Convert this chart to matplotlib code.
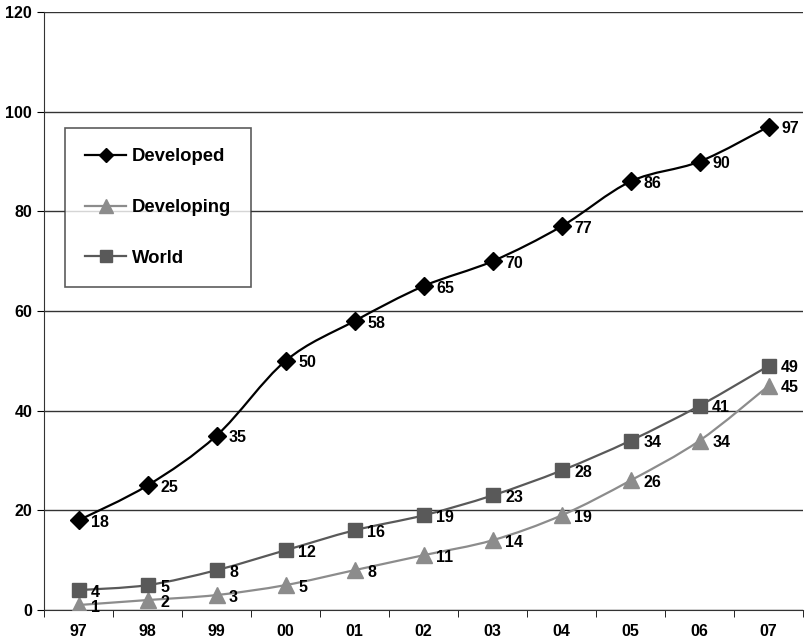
import numpy as np
import matplotlib
matplotlib.use('Agg')
import matplotlib.pyplot as plt
from matplotlib.path import Path
from matplotlib.patches import PathPatch
from matplotlib.lines import Line2D

plt.rcParams['font.family'] = ['Liberation Sans', 'DejaVu Sans']
plt.rcParams['font.weight'] = 'bold'

years = ['97', '98', '99', '00', '01', '02', '03', '04', '05', '06', '07']
developed = [18, 25, 35, 50, 58, 65, 70, 77, 86, 90, 97]
developing = [1, 2, 3, 5, 8, 11, 14, 19, 26, 34, 45]
world = [4, 5, 8, 12, 16, 19, 23, 28, 34, 41, 49]


def smooth_path(x, y):
    # Excel-style smoothed line: cubic bezier segments (Catmull-Rom tangents)
    pts = np.column_stack([x, y]).astype(float)
    verts = [pts[0]]
    codes = [Path.MOVETO]
    n = len(pts)
    for i in range(n - 1):
        p0 = pts[i - 1] if i > 0 else pts[i]
        p1, p2 = pts[i], pts[i + 1]
        p3 = pts[i + 2] if i + 2 < n else pts[i + 1]
        c1 = p1 + (p2 - p0) / 6.0
        c2 = p2 - (p3 - p1) / 6.0
        verts += [c1, c2, p2]
        codes += [Path.CURVE4] * 3
    return Path(verts, codes)


fig = plt.figure(figsize=(8.05, 6.43), dpi=100)
ax = fig.add_axes([0.0547, 0.0513, 0.943, 0.930])

x = np.arange(len(years))
# values, name, colour, marker, plot marker size, legend marker size
series = [
    (developed, 'Developed', 'black', 'D', 9.5, 7),
    (developing, 'Developing', '#8c8c8c', '^', 12, 10),
    (world, 'World', '#595959', 's', 10.5, 8.5),
]

for vals, name, col, mk, ms, lms in series:
    ax.add_patch(PathPatch(smooth_path(x, vals), fill=False, edgecolor=col,
                           lw=1.6, zorder=3))
    ax.plot(x, vals, linestyle='none', marker=mk, color=col, markersize=ms,
            zorder=4)
    for xi, v in zip(x, vals):
        ax.annotate(str(v), (xi, v), xytext=(9, -1.5), textcoords='offset points',
                    fontsize=11.5, fontweight='bold', ha='left', va='center',
                    zorder=5)

ax.set_xlim(-0.5, len(years) - 0.5)
ax.set_ylim(0, 120)
ax.set_yticks(range(0, 121, 20))
ax.yaxis.grid(True, color='#333333', lw=1)
ax.set_axisbelow(True)
ax.set_xticks(x)
ax.set_xticklabels(years)
ax.set_xticks(np.arange(-0.5, len(years), 1), minor=True)
ax.tick_params(axis='x', which='major', length=0, pad=10, labelsize=11.5)
ax.tick_params(axis='x', which='minor', length=5, direction='out')
ax.tick_params(axis='y', length=5, direction='out', labelsize=11.5)
for s in ['top', 'right']:
    ax.spines[s].set_visible(False)
for s in ['left', 'bottom']:
    ax.spines[s].set_color('#333333')

handles = [Line2D([], [], color=col, marker=mk, markersize=lms, lw=1.6)
           for vals, name, col, mk, ms, lms in series]
leg = ax.legend(handles, [s[1] for s in series], loc='upper left',
                bbox_to_anchor=(0.0277, 0.806), frameon=True, fancybox=False,
                edgecolor='#333333', handlelength=2.2,
                labelspacing=1.83, borderpad=1.1, handletextpad=0.3,
                borderaxespad=0,
                prop={'weight': 'bold', 'size': 13.3})
leg.get_frame().set_linewidth(1.2)

fig.savefig('out.png', dpi=100)
